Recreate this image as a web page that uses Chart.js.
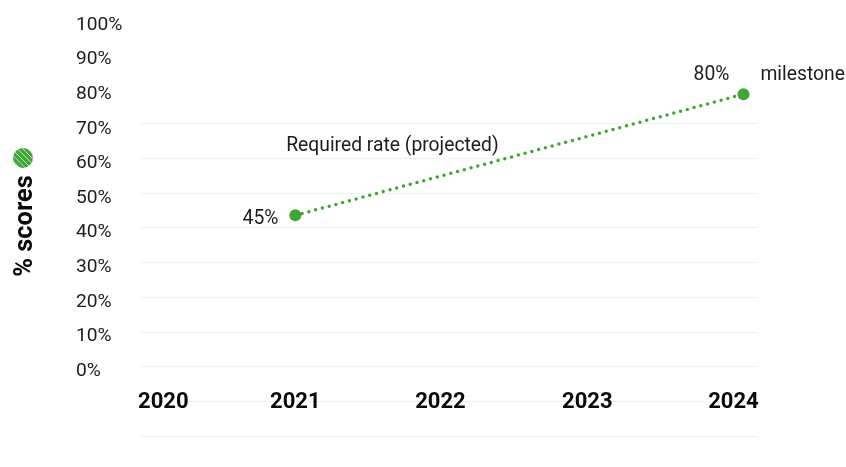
<!DOCTYPE html>
<html><head><meta charset="utf-8">
<style>html,body{margin:0;padding:0;background:#fff}canvas{display:block}</style>
<script src="https://cdn.jsdelivr.net/npm/chart.js@4"></script>
</head><body><canvas id="c" width="846" height="467"></canvas>
<script>
const years = [2021, 2024];
const scores = [45, 80];
const yearTicks = [2020, 2021, 2022, 2023, 2024];
const yearTickPlaces = [2020.116, 2021, 2021.971, 2022.955, 2023.933];
const percentTicks = [0,10,20,30,40,50,60,70,80,90,100];
const gridRows = [0,1,2,3,4,5,6,7,8,9];
const seriesName = 'Required rate (projected)';
const axisTitle = '% scores';
const milestoneWord = 'milestone';
const GREEN = '#3fa535';
const FONT = 'Roboto';

const notes = {
  id:'notes',
  afterDatasetsDraw(ch){
    const {ctx,scales:{x,y}} = ch;
    ctx.save();
    ctx.fillStyle='#1c1c1c';
    ctx.font=`19.3px ${FONT}`;
    ctx.textBaseline='middle';
    ctx.textAlign='right';
    ctx.fillText(Math.round(scores[0])+'%', x.getPixelForValue(years[0])-17, y.getPixelForValue(scores[0])+4);
    ctx.textAlign='center';
    ctx.fillText(Math.round(scores[1])+'%', x.getPixelForValue(years[1])-32, y.getPixelForValue(scores[1])-19);
    ctx.textAlign='left';
    ctx.fillText(milestoneWord, x.getPixelForValue(years[1])+17, y.getPixelForValue(scores[1])-19);
    ctx.textAlign='center';
    ctx.fillText(seriesName, x.getPixelForValue(2021.65), y.getPixelForValue(64.9));
    // rotated axis title
    ctx.save();
    ctx.translate(25.5,226);ctx.rotate(-Math.PI/2);
    ctx.fillStyle='#0a0a0a';ctx.font=`bold 25.4px ${FONT}`;
    ctx.fillText(axisTitle,0,0);
    ctx.restore();
    // striped legend dot
    ctx.beginPath();ctx.arc(23,158,10,0,Math.PI*2);ctx.fillStyle=GREEN;ctx.fill();ctx.clip();
    ctx.strokeStyle='rgba(255,255,255,.7)';ctx.lineWidth=1;
    for(let d=-24;d<=24;d+=5.5){ctx.beginPath();ctx.moveTo(23+d-14,158-14);ctx.lineTo(23+d+14,158+14);ctx.stroke();}
    ctx.restore();
  }
};

function noPadding(s){s.paddingTop=0;s.paddingBottom=0;}

new Chart(document.getElementById('c'),{
  type:'line',
  data:{datasets:[{
    label:seriesName,
    data:years.map((v,i)=>({x:v,y:scores[i]})),
    borderColor:GREEN,backgroundColor:GREEN,
    borderWidth:3.5,borderDash:[0,7],borderCapStyle:'round',
    pointRadius:6,pointHoverRadius:6,pointBackgroundColor:GREEN,pointBorderWidth:0,
    tension:0,clip:false,yAxisID:'y',xAxisID:'x'
  }]},
  options:{
    responsive:false,animation:false,
    layout:{padding:{top:25,bottom:30.5,right:88.5,left:76}},
    plugins:{legend:{display:false},tooltip:{enabled:false}},
    scales:{
      x:{type:'linear',position:{y:-3},min:2019.96,max:2024.094,
        grid:{display:false},border:{display:false},
        afterBuildTicks(s){s.ticks=yearTickPlaces.map(v=>({value:v}));},
        ticks:{autoSkip:false,maxRotation:0,padding:0,color:'#0a0a0a',
          font:{family:FONT,size:22,weight:'bold'},
          callback(v){return yearTicks[yearTickPlaces.indexOf(v)];}}
      },
      y:{type:'linear',position:'left',min:-18.9,max:100,
        grid:{display:false},border:{display:false},
        afterBuildTicks(s){s.ticks=percentTicks.map(v=>({value:v}));},
        afterFit(s){s.width=64;noPadding(s);},
        ticks:{autoSkip:false,crossAlign:'far',padding:18,color:'#1c1c1c',font:{family:FONT,size:19.2},
          callback(v){return v+'%';}}
      },
      y2:{type:'linear',position:'right',min:0,max:11.83,
        border:{display:false},
        afterBuildTicks(s){s.ticks=gridRows.map(v=>({value:v}));},
        afterFit(s){s.width=0;noPadding(s);},
        grid:{color:'#f0f0f0',lineWidth:1,drawTicks:false},
        ticks:{display:false}
      }
    }
  },
  plugins:[notes]
});
</script></body></html>
